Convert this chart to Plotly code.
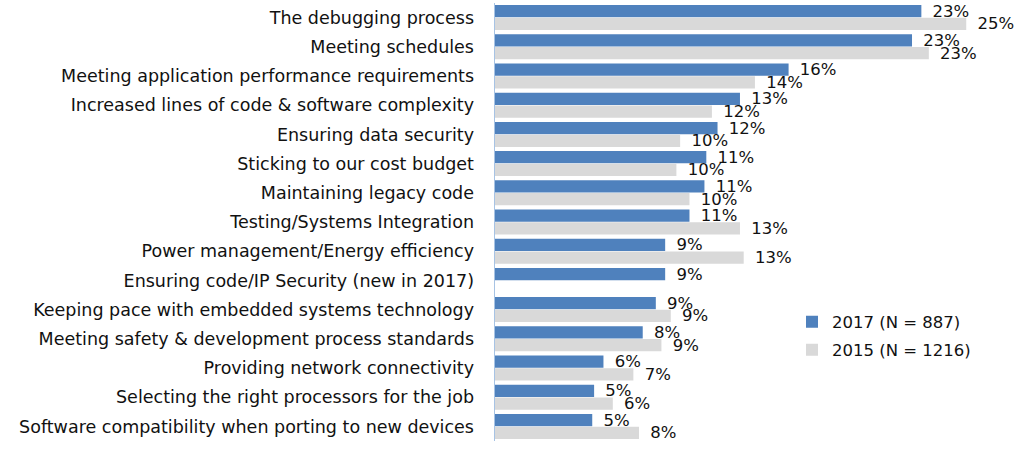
import plotly.graph_objects as go

categories = [
    "The debugging process",
    "Meeting schedules",
    "Meeting application performance requirements",
    "Increased lines of code & software complexity",
    "Ensuring data security",
    "Sticking to our cost budget",
    "Maintaining legacy code",
    "Testing/Systems Integration",
    "Power management/Energy efficiency",
    "Ensuring code/IP Security (new in 2017)",
    "Keeping pace with embedded systems technology",
    "Meeting safety & development process standards",
    "Providing network connectivity",
    "Selecting the right processors for the job",
    "Software compatibility when porting to new devices",
]

# bar lengths (%)
values_2017 = [22.8, 22.3, 15.7, 13.1, 11.9, 11.3, 11.2, 10.4, 9.1, 9.1, 8.6, 7.9, 5.8, 5.3, 5.2]
values_2015 = [25.2, 23.2, 13.9, 11.6, 9.9, 9.7, 10.4, 13.1, 13.3, None, 9.4, 8.9, 7.4, 6.3, 7.7]

# printed data labels
labels_2017 = ["23%", "23%", "16%", "13%", "12%", "11%", "11%", "11%", "9%", "9%", "9%", "8%", "6%", "5%", "5%"]
labels_2015 = ["25%", "23%", "14%", "12%", "10%", "10%", "10%", "13%", "13%", "", "9%", "9%", "7%", "6%", "8%"]

series_names = ["2017 (N = 887)", "2015 (N = 1216)"]
colors = ["#4F81BD", "#D9D9D9"]

FONT = "DejaVu Sans"
FS_CAT = 17.5
FS = 16.5
pad = "\u2002"

W, H = 1024, 454
ML, MR, MT, MB = 495, 9, 3, 13
px_per_pct = 18.7
x_max = (W - ML - MR) / px_per_pct

fig = go.Figure()
for i, (name, vals, labs, col) in enumerate([
    (series_names[0], values_2017, labels_2017, colors[0]),
    (series_names[1], values_2015, labels_2015, colors[1]),
]):
    fig.add_trace(go.Bar(
        name=name,
        y=categories,
        x=vals,
        orientation="h",
        marker=dict(color=col, line=dict(width=0)),
        text=[pad + t if t else "" for t in labs],
        textposition="outside",
        constraintext="none",
        cliponaxis=False,
        textfont=dict(family=FONT, size=FS, color="#111111"),
        hoverinfo="skip",
        legend="legend" if i == 0 else "legend2",
    ))

legend_common = dict(
    xanchor="left", yanchor="middle",
    font=dict(family=FONT, size=FS, color="#111111"),
    bgcolor="rgba(0,0,0,0)",
    borderwidth=0,
)
ph = H - MT - MB
pw = W - ML - MR

fig.update_layout(
    width=W,
    height=H,
    margin=dict(l=ML, r=MR, t=MT, b=MB),
    paper_bgcolor="white",
    plot_bgcolor="white",
    barmode="group",
    bargap=0.127,
    bargroupgap=0.04,
    font=dict(family=FONT, size=FS, color="#111111"),
    showlegend=True,
    legend=dict(x=(792 - ML) / pw, y=(H - MB - 322) / ph, **legend_common),
    legend2=dict(x=(792 - ML) / pw, y=(H - MB - 350) / ph, **legend_common),
    xaxis=dict(
        range=[0, x_max],
        showgrid=False,
        zeroline=False,
        showticklabels=False,
        ticks="",
        showline=False,
    ),
    yaxis=dict(
        autorange="reversed",
        showgrid=False,
        zeroline=False,
        ticks="",
        showline=True,
        linecolor="#A7C3E4",
        linewidth=1.5,
        ticklabelstandoff=16,
        tickfont=dict(family=FONT, size=FS_CAT, color="#111111"),
    ),
)

fig.write_html(
    "out.html",
    config={"displayModeBar": False, "staticPlot": True},
    post_script="document.body.style.margin='0px';",
)
